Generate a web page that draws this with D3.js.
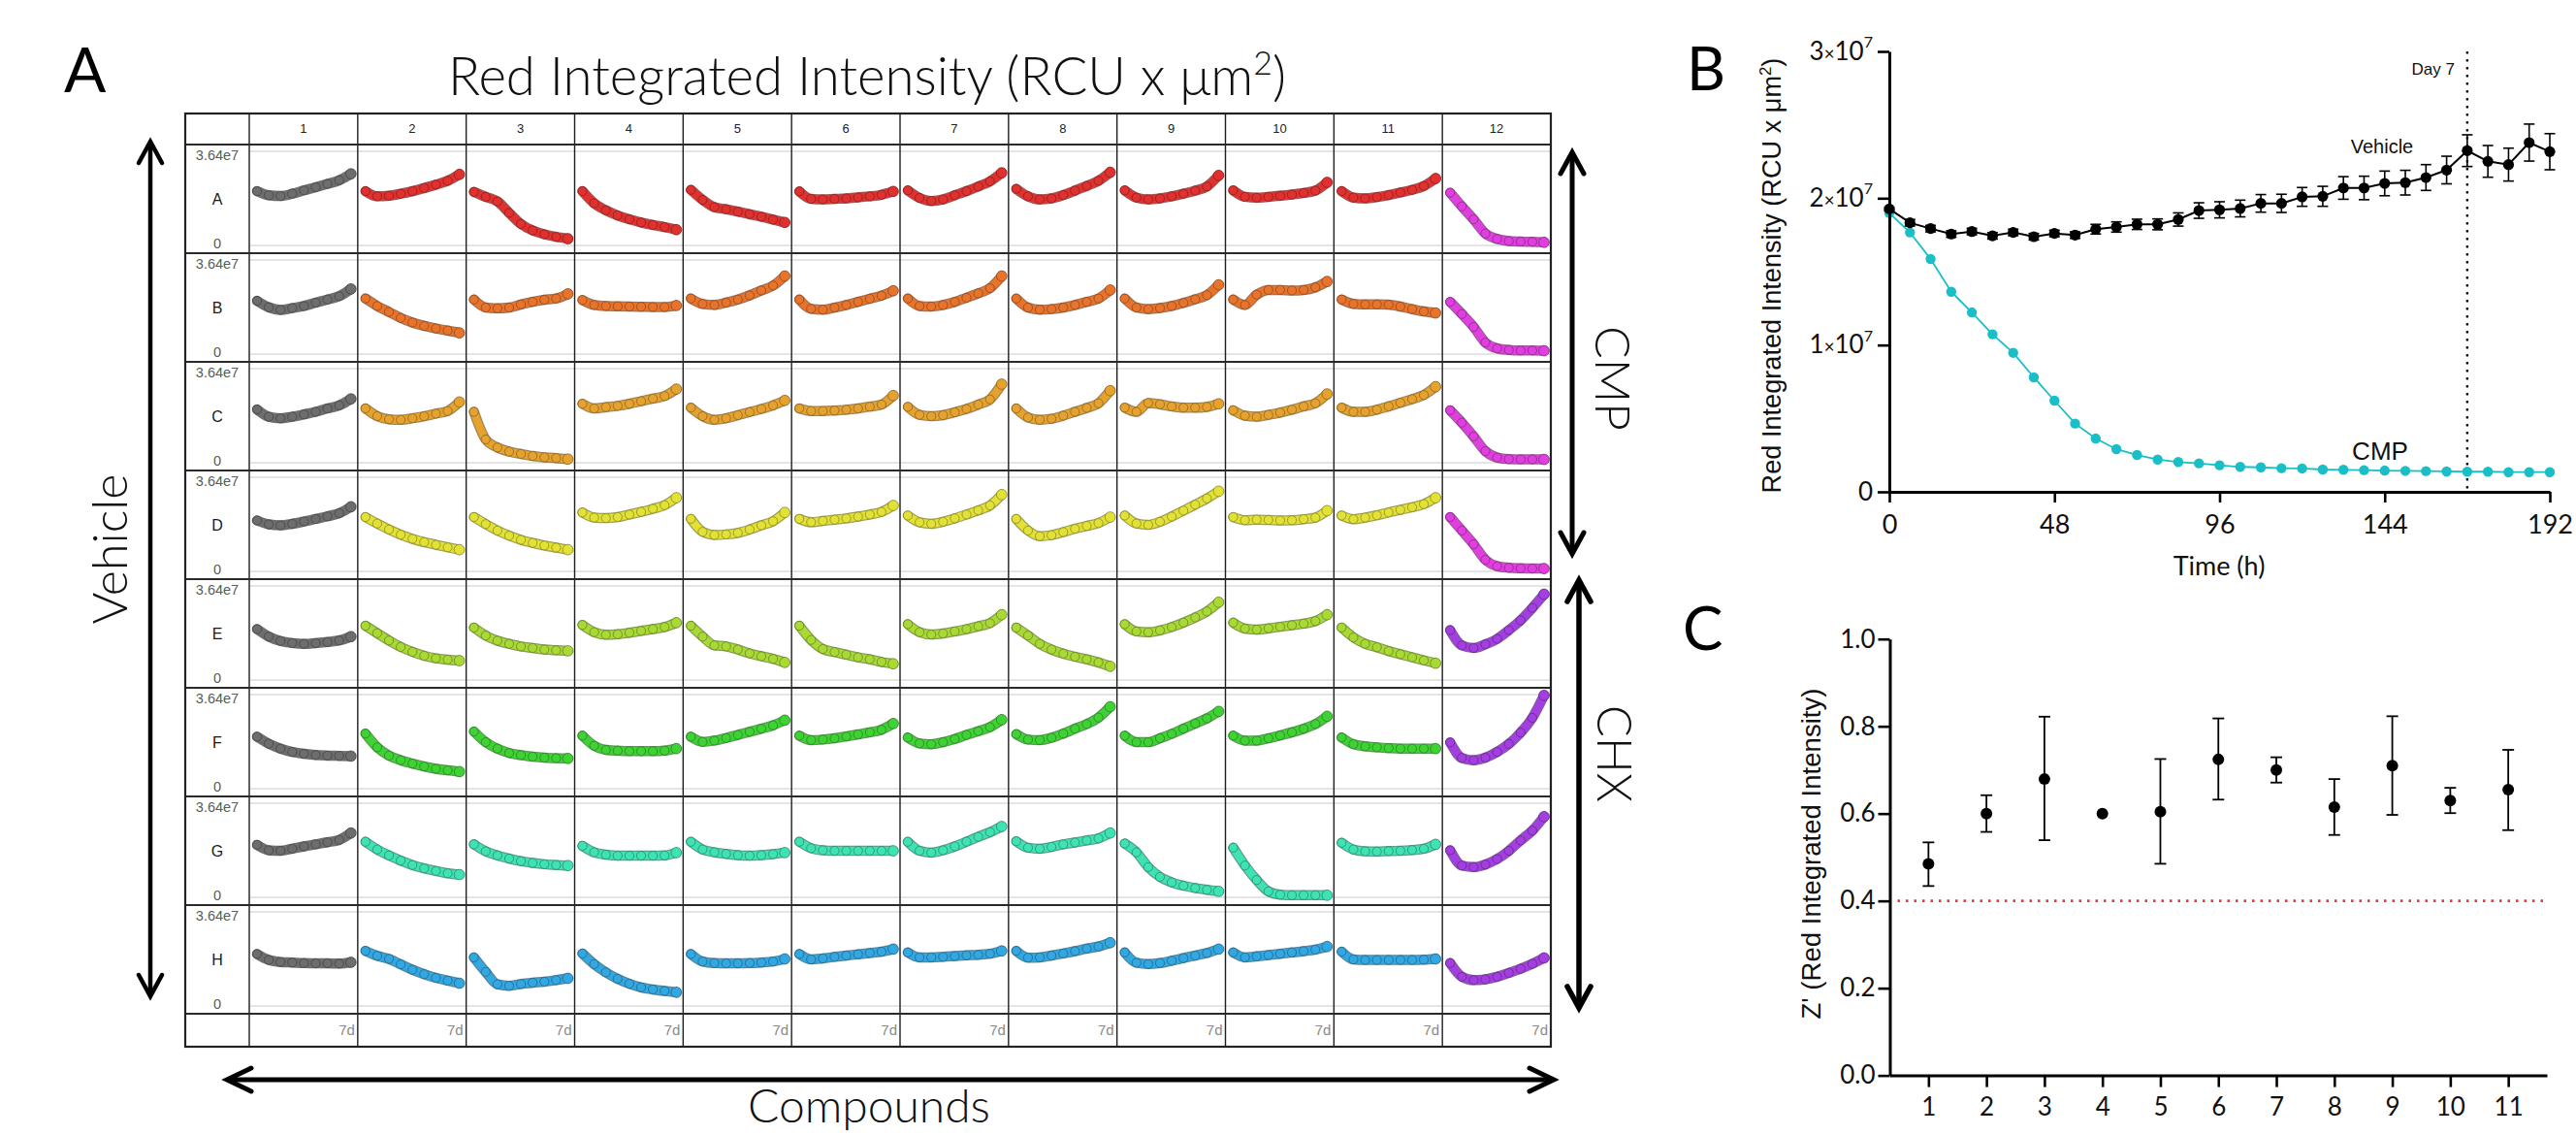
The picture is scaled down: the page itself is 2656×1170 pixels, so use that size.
<!DOCTYPE html>
<html><head><meta charset="utf-8">
<script src="https://cdn.jsdelivr.net/npm/d3@7"></script>
<style>body{margin:0;background:#fff;}svg{display:block;}</style>
</head><body>
<svg id="fig" width="2656" height="1170"></svg>
<script>
// ================= DATA =================
// Panel A: 96-well plate sparklines (values ×1e7, sampled over 7 days)
const wellColumns = [1,2,3,4,5,6,7,8,9,10,11,12];
const wellRows = ["A","B","C","D","E","F","G","H"];
const sparkDays = [0,0.875,1.75,2.625,3.5,4.375,5.25,6.125,7];
const sparkMax = 3.64;
const sparkMaxLabel = "3.64e7";
const sparkEndLabel = "7d";

const rowA = [
 [2.10,1.94,1.91,2.00,2.13,2.25,2.38,2.52,2.77],
 [2.10,1.90,1.92,2.00,2.10,2.22,2.35,2.50,2.75],
 [2.07,1.88,1.70,1.26,0.83,0.58,0.43,0.33,0.26],
 [2.10,1.63,1.36,1.16,1.01,0.89,0.79,0.71,0.61],
 [2.15,1.76,1.48,1.40,1.31,1.21,1.11,1.00,0.89],
 [2.09,1.80,1.78,1.80,1.82,1.86,1.90,1.96,2.09],
 [2.13,1.84,1.72,1.78,1.94,2.10,2.28,2.48,2.81],
 [2.19,1.90,1.78,1.82,1.95,2.12,2.30,2.50,2.83],
 [2.13,1.85,1.78,1.82,1.90,2.00,2.12,2.28,2.71],
 [2.13,1.88,1.85,1.88,1.92,1.97,2.03,2.12,2.44],
 [2.10,1.85,1.82,1.87,1.95,2.05,2.15,2.30,2.59],
 [2.04,1.51,1.01,0.46,0.25,0.17,0.15,0.14,0.12]
];
const rowB = [
 [2.06,1.81,1.71,1.78,1.86,1.99,2.11,2.24,2.52],
 [2.15,1.86,1.63,1.40,1.22,1.09,0.99,0.91,0.82],
 [2.11,1.80,1.77,1.80,1.92,2.02,2.10,2.15,2.33],
 [2.09,1.90,1.86,1.85,1.84,1.83,1.82,1.82,1.88],
 [2.15,1.94,1.90,1.99,2.11,2.27,2.46,2.65,3.02],
 [2.11,1.75,1.72,1.80,1.90,2.02,2.14,2.26,2.45],
 [2.15,1.86,1.84,1.90,2.02,2.18,2.35,2.55,3.02],
 [2.15,1.80,1.72,1.74,1.80,1.90,2.02,2.15,2.48],
 [2.15,1.80,1.74,1.78,1.86,1.98,2.12,2.28,2.68],
 [2.11,1.90,2.30,2.48,2.48,2.46,2.48,2.58,2.81],
 [2.11,1.94,1.92,1.92,1.91,1.84,1.74,1.65,1.59],
 [2.02,1.55,1.05,0.45,0.22,0.16,0.14,0.14,0.13]
];
const rowC = [
 [2.06,1.78,1.72,1.78,1.87,1.97,2.10,2.22,2.47],
 [2.10,1.80,1.68,1.66,1.72,1.80,1.90,2.00,2.35],
 [1.97,0.90,0.59,0.43,0.34,0.26,0.21,0.18,0.14],
 [2.28,2.10,2.15,2.20,2.28,2.38,2.48,2.58,2.85],
 [2.13,1.80,1.66,1.72,1.84,1.96,2.08,2.22,2.41],
 [2.10,2.00,2.00,2.02,2.05,2.10,2.17,2.25,2.60],
 [2.16,1.85,1.80,1.84,1.95,2.08,2.25,2.45,3.04],
 [2.10,1.75,1.66,1.70,1.82,1.97,2.12,2.30,2.79],
 [2.13,1.97,2.31,2.26,2.18,2.13,2.13,2.16,2.28],
 [2.03,1.82,1.78,1.85,1.94,2.05,2.18,2.30,2.66],
 [2.13,1.97,1.97,2.05,2.18,2.32,2.46,2.62,2.94],
 [2.03,1.55,1.02,0.45,0.20,0.14,0.13,0.13,0.13]
];
const rowD = [
 [1.97,1.82,1.78,1.84,1.93,2.03,2.13,2.25,2.50],
 [2.10,1.85,1.62,1.42,1.26,1.13,1.03,0.93,0.84],
 [2.10,1.83,1.58,1.38,1.22,1.10,1.00,0.92,0.84],
 [2.28,2.08,2.06,2.10,2.20,2.30,2.42,2.56,2.85],
 [2.03,1.53,1.41,1.43,1.49,1.62,1.78,1.94,2.28],
 [2.03,1.90,1.95,2.00,2.05,2.12,2.20,2.30,2.55],
 [2.16,1.90,1.84,1.92,2.05,2.20,2.36,2.55,2.97],
 [2.03,1.58,1.36,1.40,1.52,1.65,1.76,1.87,2.10],
 [2.16,1.85,1.80,1.92,2.12,2.35,2.58,2.82,3.10],
 [2.10,1.98,2.00,1.99,1.97,1.98,2.02,2.08,2.35],
 [2.16,2.02,2.08,2.17,2.28,2.38,2.48,2.60,2.85],
 [2.10,1.58,1.05,0.45,0.20,0.14,0.12,0.11,0.11]
];
const rowE = [
 [1.97,1.68,1.51,1.43,1.40,1.43,1.47,1.53,1.68],
 [2.10,1.81,1.53,1.28,1.09,0.94,0.84,0.79,0.75],
 [2.03,1.72,1.52,1.40,1.30,1.24,1.18,1.15,1.13],
 [2.13,1.85,1.75,1.77,1.83,1.90,1.97,2.05,2.22],
 [2.10,1.68,1.34,1.30,1.18,1.03,0.92,0.82,0.68],
 [2.10,1.55,1.20,1.08,0.98,0.88,0.80,0.70,0.63],
 [2.16,1.85,1.76,1.80,1.88,1.97,2.08,2.20,2.53],
 [2.03,1.72,1.40,1.18,1.02,0.90,0.80,0.68,0.53],
 [2.16,1.88,1.85,1.92,2.05,2.22,2.42,2.65,3.01],
 [2.22,1.99,1.95,2.00,2.06,2.12,2.18,2.28,2.53],
 [2.03,1.65,1.40,1.27,1.12,1.00,0.88,0.76,0.65],
 [1.93,1.34,1.24,1.38,1.59,1.93,2.31,2.79,3.32]
];
const rowF = [
 [2.01,1.74,1.55,1.42,1.35,1.30,1.28,1.27,1.26],
 [2.13,1.60,1.28,1.10,0.97,0.86,0.77,0.71,0.66],
 [2.21,1.80,1.55,1.38,1.30,1.24,1.20,1.18,1.17],
 [2.05,1.66,1.50,1.47,1.45,1.45,1.45,1.47,1.55],
 [2.01,1.81,1.86,1.96,2.08,2.20,2.32,2.45,2.65],
 [2.05,1.88,1.90,1.95,2.02,2.10,2.18,2.28,2.52],
 [1.98,1.75,1.72,1.80,1.92,2.08,2.22,2.38,2.67],
 [2.11,1.90,1.88,1.97,2.13,2.32,2.50,2.75,3.17],
 [2.05,1.80,1.80,1.95,2.12,2.32,2.52,2.72,2.99],
 [2.05,1.86,1.86,1.95,2.06,2.18,2.32,2.50,2.80],
 [1.98,1.72,1.64,1.60,1.57,1.55,1.55,1.55,1.55],
 [1.79,1.19,1.10,1.20,1.42,1.73,2.17,2.74,3.61]
];
const rowG = [
 [2.03,1.82,1.80,1.88,1.97,2.05,2.13,2.22,2.49],
 [2.15,1.85,1.62,1.42,1.25,1.12,1.02,0.93,0.88],
 [2.05,1.78,1.62,1.50,1.40,1.33,1.28,1.25,1.23],
 [1.99,1.74,1.65,1.61,1.61,1.61,1.61,1.62,1.73],
 [2.15,1.85,1.74,1.68,1.63,1.61,1.63,1.67,1.73],
 [2.15,1.90,1.82,1.80,1.80,1.80,1.80,1.80,1.80],
 [2.15,1.80,1.73,1.82,1.97,2.15,2.34,2.52,2.74],
 [2.17,1.92,1.88,1.95,2.05,2.12,2.20,2.28,2.49],
 [2.08,1.74,1.17,0.79,0.58,0.45,0.36,0.29,0.23],
 [1.92,1.23,0.67,0.23,0.10,0.08,0.08,0.08,0.08],
 [2.11,1.85,1.78,1.77,1.79,1.80,1.83,1.88,2.05],
 [1.82,1.23,1.17,1.27,1.48,1.80,2.20,2.58,3.12]
];
const rowH = [
 [2.01,1.78,1.70,1.68,1.66,1.65,1.65,1.64,1.69],
 [2.13,1.94,1.82,1.61,1.40,1.23,1.09,0.98,0.88],
 [1.88,1.32,0.84,0.78,0.85,0.90,0.94,1.00,1.07],
 [2.03,1.62,1.30,1.05,0.86,0.72,0.64,0.58,0.53],
 [2.01,1.72,1.66,1.65,1.65,1.66,1.68,1.72,1.82],
 [2.01,1.80,1.84,1.90,1.95,2.00,2.05,2.10,2.20],
 [2.07,1.88,1.88,1.90,1.93,1.96,1.98,2.02,2.13],
 [2.13,1.87,1.88,1.95,2.03,2.12,2.22,2.30,2.45],
 [2.07,1.67,1.62,1.66,1.75,1.85,1.95,2.05,2.20],
 [2.07,1.88,1.92,1.97,2.02,2.07,2.12,2.18,2.30],
 [2.10,1.80,1.78,1.78,1.78,1.78,1.78,1.79,1.82],
 [1.66,1.13,1.00,1.03,1.13,1.28,1.44,1.63,1.86]
];
const rowColors = ["#e0312f","#e8742c","#e6a22f","#e2e136","#a8d935","#3fd234","#3fe2b3","#33a7e1"];
const vehicleColor = "#6d6d6d";
const cmpWellColor = "#e03fdf";
const chxWellColor = "#a33fe0";

// Panel B: time course (values ×1e7)
const timeHours = [0,6,12,18,24,30,36,42,48,54,60,66,72,78,84,90,96,102,108,114,120,126,132,138,144,150,156,162,168,174,180,186,192];
const vehicleMean = [1.927,1.833,1.793,1.756,1.773,1.744,1.767,1.738,1.760,1.749,1.789,1.804,1.822,1.822,1.855,1.916,1.921,1.930,1.965,1.965,2.009,2.013,2.070,2.070,2.101,2.106,2.141,2.192,2.324,2.251,2.229,2.379,2.317];
const vehicleErr = [0.010,0.022,0.022,0.022,0.022,0.022,0.022,0.022,0.022,0.022,0.033,0.035,0.035,0.037,0.045,0.053,0.055,0.057,0.060,0.062,0.064,0.068,0.077,0.080,0.084,0.084,0.088,0.094,0.108,0.108,0.112,0.126,0.123];
const cmpMean = [1.899,1.767,1.586,1.363,1.222,1.073,0.947,0.780,0.621,0.465,0.363,0.291,0.251,0.220,0.203,0.194,0.181,0.170,0.167,0.161,0.159,0.152,0.150,0.148,0.145,0.143,0.141,0.139,0.137,0.137,0.134,0.134,0.134];
const bYTicks = [0,1,2,3];
const bXTicks = [0,48,96,144,192];
const day7Hour = 168;

// Panel C: Z' per compound
const zCompounds = [1,2,3,4,5,6,7,8,9,10,11];
const zMean = [0.485,0.600,0.679,0.600,0.604,0.724,0.700,0.615,0.710,0.630,0.655];
const zLow  = [0.434,0.558,0.539,0.600,0.485,0.632,0.671,0.551,0.597,0.601,0.562];
const zHigh = [0.534,0.642,0.822,0.600,0.725,0.818,0.729,0.679,0.823,0.659,0.746];
const zThreshold = 0.4;
const cYTicks = [0,0.2,0.4,0.6,0.8,1.0];

// ================= DRAWING =================
const svg = d3.select("#fig");
svg.append("rect").attr("width",2656).attr("height",1170).attr("fill","#fff");
const F_LIGHT = "Lato, 'Open Sans', sans-serif";
const F_ARIAL = "'Liberation Sans', Arial, sans-serif";

function fitWidth(sel, w){
  const cur = sel.node().getComputedTextLength();
  const fs = parseFloat(sel.attr("font-size"));
  if (cur > 0) sel.attr("font-size", (fs*w/cur).toFixed(2));
  return sel;
}
function supText(g, parts, opts){
  const t = g.append("text").attr("x",opts.x).attr("y",opts.y)
    .attr("text-anchor",opts.anchor||"middle").attr("font-family",opts.family)
    .attr("font-weight",opts.weight||400).attr("font-size",opts.size).attr("fill","#111");
  if (opts.transform) t.attr("transform",opts.transform).attr("x",0).attr("y",0);
  parts.forEach(p=>{
    const s = t.append("tspan").text(p.t);
    if (p.sup){ s.style("font-size","62%").attr("dy","-0.62em"); }
    if (p.after){ s.attr("dy","0.385em"); }
  });
  if (opts.width) fitWidth(t, opts.width);
  return t;
}
function dblArrow(g, x1,y1,x2,y2, w, hl, hw){
  const dx=x2-x1, dy=y2-y1, L=Math.hypot(dx,dy), ux=dx/L, uy=dy/L, nx=-uy, ny=ux;
  g.append("line").attr("x1",x1+ux*2).attr("y1",y1+uy*2).attr("x2",x2-ux*2).attr("y2",y2-uy*2)
    .attr("stroke","#000").attr("stroke-width",w);
  [[x1,y1,-1],[x2,y2,1]].forEach(([px,py,s])=>{
    const bx = px - s*ux*hl, by = py - s*uy*hl;
    g.append("path").attr("d",`M${bx+nx*hw},${by+ny*hw}L${px},${py}L${bx-nx*hw},${by-ny*hw}`)
      .attr("fill","none").attr("stroke","#000").attr("stroke-width",w)
      .attr("stroke-linejoin","miter").attr("stroke-linecap","round");
  });
}

// ---------- Panel A ----------
const gA = svg.append("g");
const gridL=191, labelR=257, gridR=1599, gridT=117, headB=149, bodyB=1045, gridB=1079;
const colX = d3.scaleBand().domain(wellColumns).range([labelR, gridR]);
const rowY = d3.scaleBand().domain(wellRows).range([headB, bodyB]);
const rowData = [rowA,rowB,rowC,rowD,rowE,rowF,rowG,rowH];
const bw = colX.bandwidth();

wellRows.forEach((r, ri)=>{
  const top = rowY(r);
  const y = d3.scaleLinear().domain([0, sparkMax]).range([top+104, top+7]);
  [sparkMax, 0].forEach(v=>{
    gA.append("line").attr("x1",labelR).attr("x2",gridR).attr("y1",y(v)).attr("y2",y(v))
      .attr("stroke","#e5e5e5").attr("stroke-width",2.2);
  });
  gA.append("text").attr("x",224).attr("y",top+16).attr("text-anchor","middle")
    .attr("font-family",F_ARIAL).attr("font-size",14.5).attr("fill","#5a5a5a").text(sparkMaxLabel);
  gA.append("text").attr("x",224).attr("y",top+62).attr("text-anchor","middle")
    .attr("font-family",F_ARIAL).attr("font-size",16).attr("fill","#1a1a1a").text(r);
  gA.append("text").attr("x",224).attr("y",top+107).attr("text-anchor","middle")
    .attr("font-family",F_ARIAL).attr("font-size",14.5).attr("fill","#5a5a5a").text("0");
  wellColumns.forEach((c, ci)=>{
    const vals = rowData[ri][ci];
    const x = d3.scaleLinear().domain([0,7]).range([colX(c)+8, colX(c)+bw-7]);
    const color = ci===0 ? vehicleColor : (ci===11 ? (ri<4 ? cmpWellColor : chxWellColor) : rowColors[ri]);
    const dark = d3.color(color).darker(1.6).formatHex();
    const line = d3.line().x((d,i)=>x(sparkDays[i])).y(d=>y(d)).curve(d3.curveMonotoneX);
    gA.append("path").attr("d",line(vals)).attr("fill","none").attr("stroke",dark)
      .attr("stroke-opacity",0.75).attr("stroke-width",10.5).attr("stroke-linecap","round").attr("stroke-linejoin","round");
    gA.append("path").attr("d",line(vals)).attr("fill","none").attr("stroke",color)
      .attr("stroke-width",8).attr("stroke-linecap","round").attr("stroke-linejoin","round");
    gA.selectAll(null).data(vals).enter().append("circle")
      .attr("cx",(d,i)=>x(sparkDays[i])).attr("cy",d=>y(d)).attr("r",(d,i)=>i===vals.length-1?5.4:4.6)
      .attr("fill",color).attr("stroke",dark).attr("stroke-opacity",0.7).attr("stroke-width",1);
  });
});
// header & footer text
wellColumns.forEach(c=>{
  gA.append("text").attr("x",colX(c)+bw/2).attr("y",137).attr("text-anchor","middle")
    .attr("font-family",F_ARIAL).attr("font-size",13).attr("fill","#222").text(c);
  gA.append("text").attr("x",colX(c)+bw-3).attr("y",1067).attr("text-anchor","end")
    .attr("font-family",F_ARIAL).attr("font-size",15).attr("fill","#8a8a8a").text(sparkEndLabel);
});
// grid lines
wellColumns.concat([13]).forEach(c=>{
  const xx = c===13 ? gridR : colX(c);
  gA.append("line").attr("x1",xx).attr("x2",xx).attr("y1",gridT).attr("y2",gridB)
    .attr("stroke","#1e1e1e").attr("stroke-width",1.4);
});
[headB].concat(wellRows.map(r=>rowY(r)+rowY.bandwidth())).forEach(yy=>{
  gA.append("line").attr("x1",gridL).attr("x2",gridR).attr("y1",yy).attr("y2",yy)
    .attr("stroke","#2a2a2a").attr("stroke-width",2.2);
});
gA.append("rect").attr("x",gridL).attr("y",gridT).attr("width",gridR-gridL).attr("height",gridB-gridT)
  .attr("fill","none").attr("stroke","#222").attr("stroke-width",2.2);

// annotations panel A
svg.append("text").attr("x",66).attr("y",95).attr("font-family",F_LIGHT).attr("font-size",64)
  .attr("font-weight",400).attr("fill","#000").text("A");
supText(svg,[{t:"Red Integrated Intensity (RCU x μm"},{t:"2",sup:true},{t:")",after:true}],
  {x:894,y:98,family:F_LIGHT,weight:300,size:50,width:864});
dblArrow(svg,155,146,155,1027,4.5,22,12);
svg.append("text").attr("transform","translate(131,566) rotate(-90)").attr("text-anchor","middle")
  .attr("font-family",F_LIGHT).attr("font-weight",300).attr("font-size",48).attr("fill","#111").text("Vehicle")
  .call(s=>fitWidth(s,155));
dblArrow(svg,1621,157,1621,571,5,22,12);
svg.append("text").attr("transform","translate(1645,390) rotate(90)").attr("text-anchor","middle")
  .attr("font-family",F_LIGHT).attr("font-weight",300).attr("font-size",48).attr("fill","#111").text("CMP")
  .call(s=>fitWidth(s,108));
dblArrow(svg,1628,598,1628,1039,5.5,22,12);
svg.append("text").attr("transform","translate(1647,777) rotate(90)").attr("text-anchor","middle")
  .attr("font-family",F_LIGHT).attr("font-weight",300).attr("font-size",48).attr("fill","#111").text("CHX")
  .call(s=>fitWidth(s,100));
dblArrow(svg,234,1113,1602,1113,5,25,12);
svg.append("text").attr("x",896).attr("y",1157).attr("text-anchor","middle")
  .attr("font-family",F_LIGHT).attr("font-weight",300).attr("font-size",44).attr("fill","#111").text("Compounds")
  .call(s=>fitWidth(s,250));

// ---------- Panel B ----------
const gB = svg.append("g");
const bx = d3.scaleLinear().domain([0,192]).range([1948,2629]);
const by = d3.scaleLinear().domain([0,3]).range([507,53]);
svg.append("text").attr("x",1739).attr("y",93).attr("font-family",F_LIGHT).attr("font-size",62).attr("fill","#000").text("B");

// Day 7 dotted line
gB.append("line").attr("x1",bx(day7Hour)).attr("x2",bx(day7Hour)).attr("y1",by(3)).attr("y2",by(0))
  .attr("stroke","#111").attr("stroke-width",2.4).attr("stroke-dasharray","2.5,5.5");
gB.append("text").attr("x",bx(day7Hour)-13).attr("y",77).attr("text-anchor","end")
  .attr("font-family",F_ARIAL).attr("font-size",17).attr("fill","#111").text("Day 7");

// CMP series
const lineB = d3.line().x((d,i)=>bx(timeHours[i])).y(d=>by(d));
gB.append("path").attr("d",lineB(cmpMean)).attr("fill","none").attr("stroke","#19bec7").attr("stroke-width",1.8);
gB.selectAll(null).data(cmpMean).enter().append("circle")
  .attr("cx",(d,i)=>bx(timeHours[i])).attr("cy",d=>by(d)).attr("r",5.2).attr("fill","#19bec7");
// Vehicle series
vehicleMean.forEach((m,i)=>{
  const e = vehicleErr[i], xx = bx(timeHours[i]);
  gB.append("line").attr("x1",xx).attr("x2",xx).attr("y1",by(m-e)).attr("y2",by(m+e)).attr("stroke","#000").attr("stroke-width",1.6);
  [m-e,m+e].forEach(v=>gB.append("line").attr("x1",xx-5.5).attr("x2",xx+5.5).attr("y1",by(v)).attr("y2",by(v)).attr("stroke","#000").attr("stroke-width",1.6));
});
gB.append("path").attr("d",lineB(vehicleMean)).attr("fill","none").attr("stroke","#000").attr("stroke-width",2);
gB.selectAll(null).data(vehicleMean).enter().append("circle")
  .attr("cx",(d,i)=>bx(timeHours[i])).attr("cy",d=>by(d)).attr("r",5.6).attr("fill","#000");
gB.append("text").attr("x",2456).attr("y",158).attr("text-anchor","middle")
  .attr("font-family",F_ARIAL).attr("font-size",20).attr("fill","#111").text("Vehicle");
gB.append("text").attr("x",2454).attr("y",474).attr("text-anchor","middle")
  .attr("font-family",F_ARIAL).attr("font-size",26).attr("fill","#111").text("CMP");

// axes B
const axBy = gB.append("g").attr("transform",`translate(${bx(0)},0)`)
  .call(d3.axisLeft(by).tickValues(bYTicks).tickSize(12).tickSizeOuter(0).tickPadding(5));
axBy.selectAll(".tick text").each(function(d){
  const t = d3.select(this).text(null).attr("font-family",F_LIGHT).attr("font-size",26).attr("fill","#111");
  if (d===0){ t.text("0"); return; }
  t.append("tspan").text(d);
  t.append("tspan").style("font-size","72%").text("×");
  t.append("tspan").text("10");
  t.append("tspan").style("font-size","62%").attr("dy","-0.8em").text("7");
});
const axBx = gB.append("g").attr("transform",`translate(0,${by(0)})`)
  .call(d3.axisBottom(bx).tickValues(bXTicks).tickSize(11).tickSizeOuter(0).tickPadding(13));
axBx.selectAll(".tick text").attr("font-family",F_LIGHT).attr("font-size",27).attr("fill","#111");
[axBy,axBx].forEach(a=>{
  a.select(".domain").attr("stroke","#000").attr("stroke-width",3);
  a.selectAll(".tick line").attr("stroke","#000").attr("stroke-width",2.6);
});
gB.append("text").attr("x",2288).attr("y",593).attr("text-anchor","middle")
  .attr("font-family",F_LIGHT).attr("font-size",27).attr("fill","#111").text("Time (h)");
supText(gB,[{t:"Red Integrated Intensity (RCU x μm"},{t:"2",sup:true},{t:")",after:true}],
  {transform:"translate(1836,284) rotate(-90)",family:F_ARIAL,size:24,width:449});

// ---------- Panel C ----------
const gC = svg.append("g");
const cx = d3.scaleLinear().domain([1/3, 35/3]).range([1948.5,2626]);
const cy = d3.scaleLinear().domain([0,1]).range([1108.6,658.7]);
svg.append("text").attr("x",1735).attr("y",670).attr("font-family",F_LIGHT).attr("font-size",62).attr("fill","#000").text("C");
gC.append("line").attr("x1",cx(1/3)+8).attr("x2",cx(35/3)-3).attr("y1",cy(zThreshold)).attr("y2",cy(zThreshold))
  .attr("stroke","#e8383a").attr("stroke-width",2.8).attr("stroke-dasharray","2.5,6");
zCompounds.forEach((c,i)=>{
  const xx = cx(c);
  if (zHigh[i]-zLow[i] > 0.001){
    gC.append("line").attr("x1",xx).attr("x2",xx).attr("y1",cy(zLow[i])).attr("y2",cy(zHigh[i])).attr("stroke","#000").attr("stroke-width",1.8);
    [zLow[i],zHigh[i]].forEach(v=>gC.append("line").attr("x1",xx-6).attr("x2",xx+6).attr("y1",cy(v)).attr("y2",cy(v)).attr("stroke","#000").attr("stroke-width",1.8));
  }
});
gC.selectAll(null).data(zMean).enter().append("circle")
  .attr("cx",(d,i)=>cx(zCompounds[i])).attr("cy",d=>cy(d)).attr("r",6).attr("fill","#000");
const axCy = gC.append("g").attr("transform",`translate(${cx(1/3)},0)`)
  .call(d3.axisLeft(cy).tickValues(cYTicks).tickSize(12).tickSizeOuter(0).tickPadding(3).tickFormat(d3.format(".1f")));
const axCx = gC.append("g").attr("transform",`translate(0,${cy(0)})`)
  .call(d3.axisBottom(cx).tickValues(zCompounds).tickSize(12).tickSizeOuter(0).tickPadding(11).tickFormat(d3.format("d")));
[axCy,axCx].forEach(a=>{
  a.select(".domain").attr("stroke","#000").attr("stroke-width",3);
  a.selectAll(".tick line").attr("stroke","#000").attr("stroke-width",2.6);
  a.selectAll(".tick text").attr("font-family",F_LIGHT).attr("font-size",26).attr("fill","#111");
});
gC.append("text").attr("transform","translate(1877,880) rotate(-90)").attr("text-anchor","middle")
  .attr("font-family",F_ARIAL).attr("font-size",24).attr("fill","#111").text("Z' (Red Integrated Intensity)")
  .call(s=>fitWidth(s,341));
</script>
</body></html>
